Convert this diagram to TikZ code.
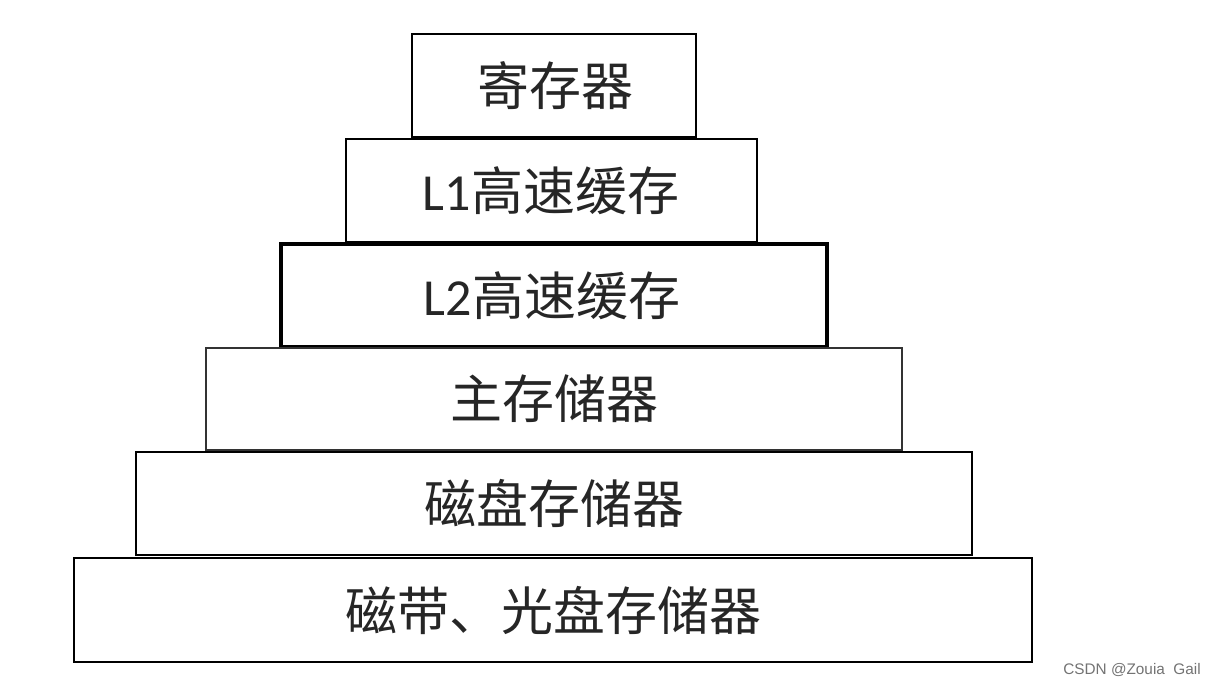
\documentclass[tikz,border=0pt]{standalone}
\usepackage{fontspec}
\setmainfont{Carlito}
\newfontfamily\cjk{Noto Sans CJK SC}
\newfontfamily\wm{Liberation Sans}
\begin{document}
\begin{tikzpicture}[x=0.75pt,y=-0.75pt,
  level/.style={draw=black,line width=1.6pt,fill=white},
  lbl/.style={font=\fontsize{39}{44}\selectfont,text=black!85,inner sep=0pt,anchor=center}]
\useasboundingbox (0,0) rectangle (1216,687);
\fill[white] (0,0) rectangle (1216,687);
% levels
\draw[level,line width=1.5pt] (412,34) rectangle (696,137);
\draw[level,line width=1.8pt] (346,139) rectangle (757,242);
\draw[level,line width=2.4pt] (281,244) rectangle (827,347);
\draw[level,line width=1.2pt,draw=black!80] (206,348) rectangle (902,450);
\draw[level,line width=1.6pt] (136,452) rectangle (972,555);
\draw[level,line width=1.6pt] (74,558) rectangle (1032,662);
% labels
\node[lbl] (t1) at (555,86) {\cjk 寄存器};
\node[lbl] (t2) at (551,191) {L1{\cjk 高速缓存}};
\node[lbl] (t3) at (552,296) {L2{\cjk 高速缓存}};
\node[lbl] (t4) at (554,399) {\cjk 主存储器};
\node[lbl] (t5) at (554,503) {\cjk 磁盘存储器};
\node[lbl] (t6) at (553,610) {\cjk 磁带、光盘存储器};
\node[anchor=east,inner sep=0pt,text=black!55,font=\wm\fontsize{11.5}{13}\selectfont] (wm) at (1201,670) {CSDN @Zouia\ \ Gail};
\end{tikzpicture}
\end{document}
